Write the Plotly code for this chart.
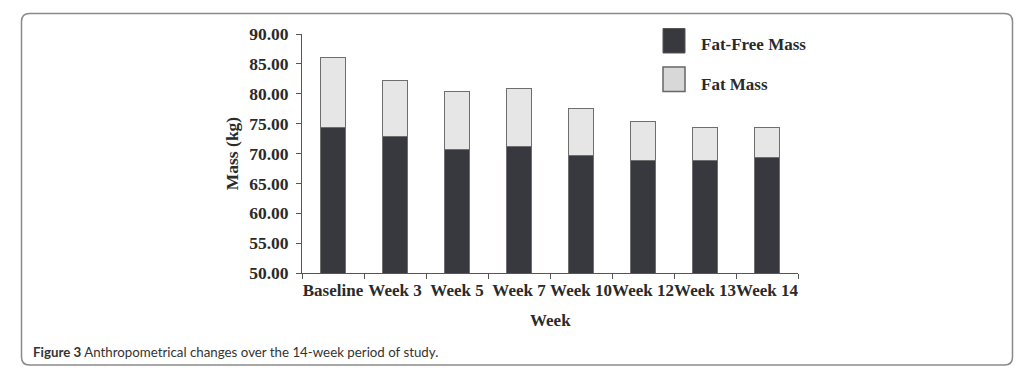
import plotly.graph_objects as go

weeks = ["Baseline", "Week 3", "Week 5", "Week 7", "Week 10", "Week 12", "Week 13", "Week 14"]
fat_free_mass = [74.4, 72.8, 70.6, 71.1, 69.6, 68.8, 68.9, 69.3]
fat_mass = [11.6, 9.5, 9.7, 9.7, 7.9, 6.5, 5.4, 5.0]
y_ticks = [50, 55, 60, 65, 70, 75, 80, 85, 90]

DARK = "#38393e"
LIGHT = "#e6e6e6"
EDGE = "#6e6e6e"
SERIF = "Liberation Serif, Times New Roman, serif"
TXT = "#2a2a2a"

OFF = 8  # page body margin offset
W, H = 1024 - OFF, 376 - OFF
# plot area in reference-page pixel coords
PX0, PX1, PY0, PY1 = 302, 798, 34, 273
L, T = PX0 - OFF, PY0 - OFF
R, B = W - (PX1 - OFF), H - (PY1 - OFF)
PW, PH = PX1 - PX0, PY1 - PY0


def px(x):
    return (x - PX0) / PW


def py(y):
    return (PY1 - y) / PH


fig = go.Figure()
fig.add_trace(go.Bar(x=weeks, y=fat_free_mass, name="Fat-Free Mass",
                     marker=dict(color=DARK, line=dict(color=EDGE, width=1)),
                     width=0.4, showlegend=False))
fig.add_trace(go.Bar(x=weeks, y=fat_mass, name="Fat Mass",
                     marker=dict(color=LIGHT, line=dict(color=EDGE, width=1)),
                     width=0.4, showlegend=False))

shapes = []
# rounded frame
x0, x1, y0, y1 = px(21.5), px(1012.5), py(13.5), py(365)
rx, ry = 8 / PW, 8 / PH
path = (f"M {x0+rx},{y0} L {x1-rx},{y0} Q {x1},{y0} {x1},{y0-ry} "
        f"L {x1},{y1+ry} Q {x1},{y1} {x1-rx},{y1} "
        f"L {x0+rx},{y1} Q {x0},{y1} {x0},{y1+ry} "
        f"L {x0},{y0-ry} Q {x0},{y0} {x0+rx},{y0} Z")
shapes.append(dict(type="path", xref="paper", yref="paper", path=path,
                   line=dict(color="#8a8a8a", width=1.5), layer="below"))
# legend squares
shapes.append(dict(type="rect", xref="paper", yref="paper",
                   x0=px(663), x1=px(685), y0=py(28.5), y1=py(53),
                   fillcolor=DARK, line=dict(color="#555", width=1)))
shapes.append(dict(type="rect", xref="paper", yref="paper",
                   x0=px(663), x1=px(685), y0=py(67), y1=py(91.5),
                   fillcolor="#d8d8d8", line=dict(color="#666", width=1.5)))

annotations = [
    dict(text="<b>Fat-Free Mass</b>", xref="paper", yref="paper", x=px(699), y=py(45),
         xanchor="left", yanchor="middle", showarrow=False,
         font=dict(family=SERIF, size=17, color=TXT)),
    dict(text="<b>Fat Mass</b>", xref="paper", yref="paper", x=px(699), y=py(84),
         xanchor="left", yanchor="middle", showarrow=False,
         font=dict(family=SERIF, size=17, color=TXT)),
    dict(text="<b>Week</b>", xref="paper", yref="paper", x=0.5, y=py(320),
         xanchor="center", yanchor="middle", showarrow=False,
         font=dict(family=SERIF, size=17, color=TXT)),
    dict(text="<b>Figure 3</b> Anthropometrical changes over the 14-week period of study.",
         xref="paper", yref="paper", x=px(31), y=py(352), xanchor="left", yanchor="middle",
         showarrow=False, font=dict(family="Lato, Noto Sans, sans-serif", size=13.3, color="#333")),
]

fig.update_layout(
    width=W, height=H,
    margin=dict(l=L, r=R, t=T, b=B, pad=0),
    paper_bgcolor="white", plot_bgcolor="white",
    barmode="stack",
    shapes=shapes, annotations=annotations,
    xaxis=dict(
        type="category", showgrid=False, showline=True, linecolor="#555", linewidth=1,
        ticks="outside", tickson="boundaries", ticklen=5, tickcolor="#555",
        tickangle=0, ticklabelstandoff=2,
        tickfont=dict(family=SERIF, size=17, color=TXT),
        tickprefix="<b>", ticksuffix="</b>",
    ),
    yaxis=dict(
        range=[50, 90], tickvals=y_ticks, ticktext=[f"<b>{v:.2f}</b>" for v in y_ticks],
        showgrid=False, zeroline=False, showline=True, linecolor="#555", linewidth=1,
        ticks="outside", ticklen=5, tickcolor="#555", ticklabelstandoff=4,
        tickfont=dict(family=SERIF, size=17.5, color=TXT),
        title=dict(text="<b>Mass (kg)</b>", font=dict(family=SERIF, size=17.5, color=TXT), standoff=6),
    ),
)

fig.write_html("out.html")
